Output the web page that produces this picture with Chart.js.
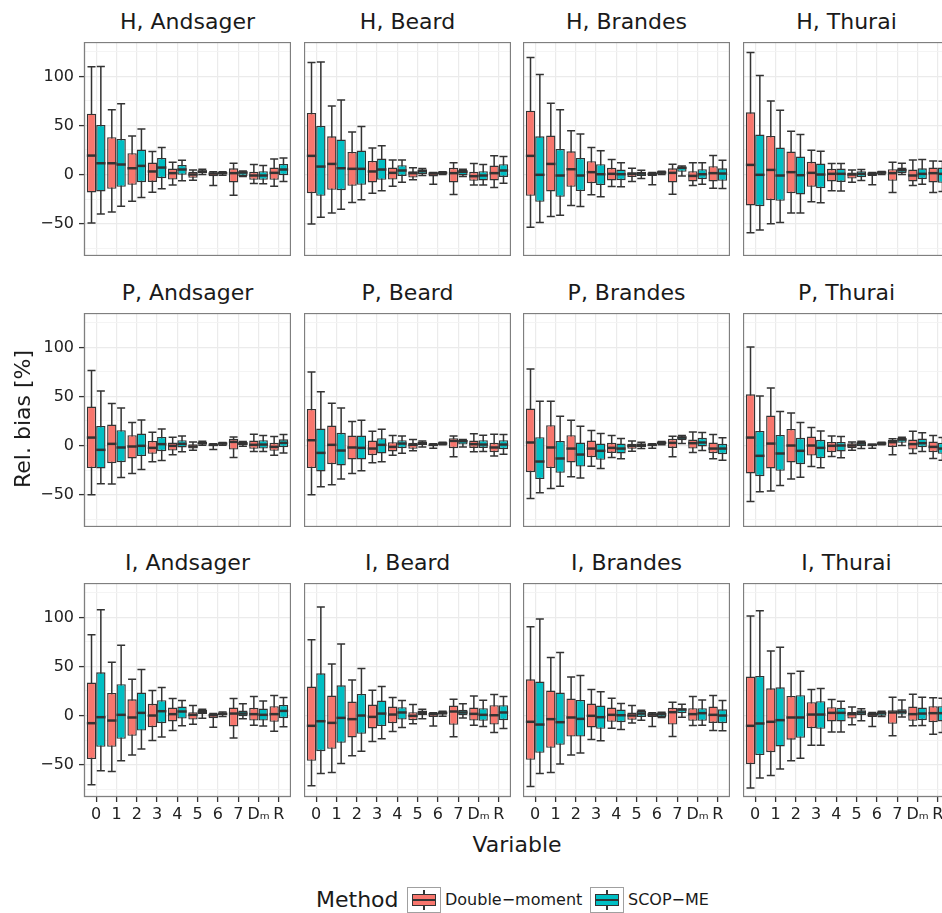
<!DOCTYPE html>
<html><head><meta charset="utf-8">
<script src="https://cdn.jsdelivr.net/npm/chart.js@4.4.0/dist/chart.umd.min.js"></script>
<style>
html,body{margin:0;padding:0;background:#fff;overflow:hidden;width:942px;height:913px;}
#wrap{position:relative;width:960px;height:913px;font-family:"DejaVu Sans",sans-serif;color:#1a1a1a;overflow:hidden;}
canvas{position:absolute;}
.strip{position:absolute;font-size:22px;line-height:22px;text-align:center;white-space:nowrap;width:207px;}
.axt{position:absolute;font-size:22px;line-height:22px;white-space:nowrap;}
.leg{position:absolute;white-space:nowrap;}
.key{position:absolute;width:32px;height:24px;border:1px solid #a0a0a0;background:#fff;}
.key .wh{position:absolute;left:15.3px;width:1.4px;top:2px;bottom:2px;background:#333;}
.key .bx{position:absolute;left:4px;right:4px;top:6px;bottom:6px;border:1.4px solid #333;box-sizing:border-box;}
.key .md{position:absolute;left:4px;right:4px;top:11px;height:2px;background:#333;}
</style></head>
<body><div id="wrap"></div>
<script>
// ---- data ----
const variables = ['0','1','2','3','4','5','6','7','Dₘ','R'];
const methods = ['Double−moment','SCOP−ME'];
const species = ['H','P','I'];
const disdrometers = ['Andsager','Beard','Brandes','Thurai'];
const methodColors = ['#F8766D','#00BFC4'];
const yTickStep = 25;
// each entry: [lower whisker, Q1, median, Q3, upper whisker] for variables 0..R
const H_Andsager_DM = [[-49.5,-18.3,19.3,62,109.8],[-38.3,-14.6,11.5,38,66],[-27.1,-10.5,6.4,21.7,39.3],[-18,-7.5,3.1,12.2,23.4],[-10.8,-5.1,1.4,6.1,12.5],[-5.8,-3.4,0,2.7,4.7],[-11.2,-1.7,1,2,2.7],[-21,-8.1,1.4,6.4,11.5],[-9.2,-5.4,-1,2.7,10.2],[-11.9,-5.4,1.7,7.1,15.9]];
const H_Andsager_SC = [[-40.3,-17.3,11.5,50.5,110],[-32.2,-12.5,10.2,36.3,72.2],[-23.4,-7.8,8.8,25.4,46.4],[-14.6,-3.7,7.1,16.9,27.5],[-6.4,-0.3,5.1,9.8,14.6],[0,1.4,3,4.4,5.4],[-0.7,0,1.4,2.4,2.7],[-2,-1.4,2,3.4,3.7],[-9.5,-5.4,-1,3.4,9.2],[-7.1,-0.7,5.1,10.8,16.9]];
const H_Beard_DM = [[-50.5,-19,19,62.7,114],[-39.3,-15.6,10.8,39,69.8],[-28.5,-11.5,5.8,23,43.4],[-19,-8.1,3.1,13.9,27.1],[-11.9,-5.1,1.7,7.1,14.9],[-5.4,-3.1,1.4,3.4,6.8],[-9.8,-2,1,2,2],[-20.3,-8.1,1.4,6.8,11.9],[-10.8,-6.4,-1.7,2.7,11.2],[-13.2,-6.1,1.4,9.2,19]];
const H_Beard_SC = [[-43.4,-21.7,8.1,49.5,114.6],[-35.3,-15.9,6.4,35.6,75.9],[-25.8,-10.5,5.8,24.4,48.8],[-16.6,-5.4,5.1,16.3,29.2],[-7.8,-1.4,4.1,9.5,14.9],[-1,0.3,3.4,5.4,6.1],[0,0.7,1.7,2.4,2.7],[-2,-1,2.7,4.7,5.4],[-10.8,-6.1,-1,3.4,10.2],[-8.8,-2.4,4.1,10.5,18.3]];
const H_Brandes_DM = [[-53.6,-21.7,19,65,119.3],[-42.7,-17.3,10.8,39.7,72.5],[-31.5,-12.5,5.4,23.7,44.7],[-20.7,-8.8,2.4,13.6,27.5],[-12.2,-6.1,0.7,6.8,15.3],[-7.1,-2.4,0.7,2.4,6.4],[-10.5,-1.4,0.7,1.7,2],[-20,-8.1,1.7,6.4,10.5],[-11.2,-7.1,-1.4,3.4,11.9],[-13.9,-7.1,1.4,8.5,19.3]];
const H_Brandes_SC = [[-48.8,-27.8,-0.3,39,102],[-41.4,-22.7,-1,26.1,66],[-32.5,-16.9,-1,16.9,41.4],[-22.7,-10.8,0.3,10.5,24.1],[-12.5,-5.8,0.3,5.1,11.9],[-4.1,-1.4,1,2.7,4.4],[0,0.7,2,3.1,3.4],[-1.4,2.7,6.8,8.1,8.8],[-9.8,-4.7,0.3,5.4,11.9],[-14.2,-6.4,1,6.4,14.6]];
const H_Thurai_DM = [[-59.3,-31.5,9.8,63.4,124.4],[-50.2,-26.1,4.7,39.3,74.9],[-39.3,-19,2.4,23.4,44.1],[-27.8,-12.5,1.7,12.9,24.7],[-16.6,-7.1,0.7,5.8,11.2],[-7.8,-4.1,0,2,4.7],[-10.5,-1.4,0.7,2,2],[-18.3,-6.4,1.4,5.4,12.5],[-11.2,-7.1,-1,5.1,14.9],[-18.3,-8.1,1.4,7.1,13.9]];
const H_Thurai_SC = [[-56.6,-32.2,-0.3,40.7,101],[-48.8,-26.8,-1,27.5,65.4],[-39.3,-20.3,-0.7,18.3,40.7],[-28.8,-13.9,0,11.2,23.7],[-16.9,-7.5,0.7,6.1,11.2],[-6.1,-2.7,0.7,3.4,5.1],[0,0.7,2,2.7,3.1],[0,1.4,4.4,7.1,11.5],[-9.8,-4.7,0.7,6.4,15.3],[-17.3,-8.5,0.7,7.1,13.6]];
const P_Andsager_DM = [[-50.2,-23,8.1,39.7,76.3],[-39.3,-18,1.7,21.4,42.7],[-28.5,-13.2,-1,10.5,23.4],[-16.6,-8.5,-2.4,4.7,13.6],[-9.5,-5.1,-0.3,3.1,8.5],[-4.7,-3.1,-1,1.4,3.7],[-4.1,-0.7,0.7,1.4,1.7],[-12.2,-4.1,3.7,6.8,8.8],[-6.1,-3.4,0.7,5.1,11.5],[-9.8,-5.4,-1.4,2.7,9.2]];
const P_Andsager_SC = [[-39,-23.4,-4.4,20,55.6],[-32.5,-17,-2,15.6,38.3],[-24.4,-10.8,-0.3,12.2,26.1],[-15.3,-5.8,1.4,8.8,16.9],[-6.4,-2,1.7,5.4,9.8],[0.3,1,2.4,3.7,4.4],[0.3,1,2,2.7,3.1],[-0.7,0,2,3.7,4.1],[-6.1,-3.1,1,5.4,10.2],[-7.5,-1.7,2.7,6.4,11.2]];
const P_Beard_DM = [[-50.2,-23,5.4,37.3,74.9],[-40,-19,0.7,20.3,43],[-28.5,-14.2,-2,10.2,24.4],[-17.6,-9.8,-3.1,5.1,14.6],[-9.8,-6.1,-1.4,3.4,10.2],[-5.4,-3.4,0.7,2.7,6.1],[-2.7,-0.7,0.7,1.4,1.7],[-11.5,-2.7,4.7,7.5,9.8],[-6.4,-2.4,1.4,5.1,11.9],[-10.8,-6.8,-2,2.7,11.5]];
const P_Beard_SC = [[-42,-26.4,-7.5,17.3,54.9],[-34.2,-20.3,-5.1,12.9,38.3],[-25.8,-14.2,-2.4,10.2,25.8],[-16.6,-8.1,0.7,7.5,16.6],[-7.8,-2.7,2,5.4,9.8],[-1.4,0,2,4.1,4.7],[0.7,1.4,2,3.1,3.4],[-1.4,1,4.4,5.8,6.1],[-6.1,-2.4,1,5.4,10.5],[-8.8,-3.7,1,5.4,11.2]];
const P_Brandes_DM = [[-53.9,-27.1,3.1,37.6,78],[-43.7,-23,-2,20.7,45.1],[-31.9,-17.3,-3.1,10.5,25.8],[-21,-11.9,-3.1,5.1,15.3],[-12.2,-7.5,-2.4,2.7,10.2],[-5.8,-3.4,-0.3,1.7,4.7],[-2.7,-0.7,0.7,1.4,1.7],[-11.5,-2.4,2.7,6.8,9.5],[-7.1,-3.1,2.4,6.1,13.9],[-13.6,-7.8,-3.1,3.1,11.2]];
const P_Brandes_SC = [[-48.1,-34.2,-16.3,8.5,45.1],[-41.4,-27.8,-13.2,4.7,29.8],[-33.2,-21.4,-9.2,3.1,19.7],[-23.4,-14.6,-5.4,2,12.2],[-13.6,-8.1,-3.1,2,7.1],[-3.1,-1.4,0.7,2,3.4],[0.7,1.4,2.7,3.7,4.1],[2,5.4,8.1,9.5,10.2],[-5.1,-1,3.1,7.8,13.2],[-14.9,-8.8,-3.1,1.7,7.8]];
const P_Thurai_DM = [[-56.9,-28.5,8.1,52.2,100.3],[-46.4,-23.4,2,30.5,58.6],[-34.2,-17.3,0,16.9,33.2],[-21.4,-10.2,0,9.2,18.3],[-11.2,-6.8,-0.3,3.7,9.8],[-4.7,-2.7,0,2.4,3.7],[-2.7,-0.7,0.7,1.4,1.4],[-9.5,-1.4,3.4,5.8,6.8],[-8.1,-4.1,1.4,6.1,14.6],[-13.2,-6.8,-1.4,4.1,10.2]];
const P_Thurai_SC = [[-47.1,-31.2,-10.5,14.9,50.5],[-40.7,-25.8,-8.1,10.8,34.6],[-32.2,-19,-5.4,7.8,23.4],[-22.7,-12.9,-2.4,5.8,14.9],[-12.5,-6.1,0,3.7,9.2],[-3.1,-0.7,2,4.1,4.4],[0.7,1.4,2,3.1,3.4],[0,2.7,6.1,7.8,8.5],[-6.1,-1.7,2.4,7.1,12.9],[-14.9,-8.5,-3.1,2.7,8.1]];
const I_Andsager_DM = [[-70.5,-44.4,-7.8,33.6,82.4],[-56.9,-31.9,-5.1,23,54.2],[-40.3,-20.7,-2,16.6,36.9],[-25.4,-11.9,0,11.9,25.4],[-15.3,-6.1,1.4,8.1,17.3],[-8.8,-4.1,0.7,3.4,10.2],[-11.9,-2.7,0.3,2,2],[-23,-11.2,2,8.1,17.3],[-9.8,-5.1,1.4,7.8,19.3],[-15.9,-6.4,1.4,9.5,20.3]];
const I_Andsager_SC = [[-56.3,-31.9,-1.7,44.1,107.8],[-46.1,-23.7,0.7,31.9,71.5],[-34.2,-15.3,2.7,23.4,46.8],[-22,-7.8,4.4,15.6,28.5],[-10.5,-3.1,4.1,9.2,15.3],[-2.7,1.4,3.7,5.8,6.4],[-1,0,1.7,3.1,3.7],[-3.4,-0.7,2,5.1,11.9],[-10.8,-5.1,0.7,7.1,14.9],[-11.5,-2.7,4.7,10.8,18.3]];
const I_Beard_DM = [[-71.5,-46.1,-10.5,29.5,77.3],[-58,-33.9,-7.5,20.3,52.5],[-41,-22.4,-3.7,14.2,36.3],[-26.4,-13.2,-1.4,11.2,25.8],[-16.3,-7.8,1,9.2,18.3],[-8.5,-4.7,-0.3,3.4,11.2],[-10.8,-1.4,1.4,2.7,2.7],[-21.7,-9.5,4.1,10.2,16.6],[-9.8,-5.1,1.7,8.1,20],[-17.3,-9.2,0.3,10.5,21.4]];
const I_Beard_SC = [[-59,-36.3,-5.8,43,110.5],[-48.8,-27.8,-2.4,30.8,72.9],[-36.3,-18.6,0,22,47.8],[-23.7,-10.8,2,15.3,29.5],[-12.2,-4.1,3.1,8.5,15.3],[-3.4,0.3,2.7,5.1,6.4],[-0.7,0.7,2.7,4.1,4.4],[-2.4,0.3,3.1,5.8,11.9],[-11.2,-5.4,0.7,7.5,15.6],[-13.2,-4.7,3.1,10.5,19.3]];
const I_Brandes_DM = [[-72.2,-45.1,-6.4,36.9,90.5],[-58,-32.9,-3.7,25.4,59],[-40.3,-21.4,-2,17.3,39.3],[-24.4,-12.2,-0.3,12.2,26.4],[-12.9,-6.4,0.7,8.1,17.6],[-7.5,-4.4,0,3.1,10.2],[-11.2,-1.4,1,2.4,2.7],[-21.4,-9.2,3.4,7.8,13.6],[-10.2,-5.4,1.4,7.5,19.3],[-15.3,-7.5,0.7,9.2,20.3]];
const I_Brandes_SC = [[-59,-38,-9.2,34.6,98.3],[-49.5,-29.8,-6.8,23.4,64.1],[-38.3,-21.4,-3.4,15.9,40.7],[-25.8,-13.6,-1.7,10.2,24.1],[-14.2,-6.8,0.3,6.1,12.2],[-4.7,-1.4,2,4.7,5.4],[-2,-1.4,1.4,3.1,3.4],[-1.7,2.4,6.1,7.5,11.5],[-9.8,-5.4,2.4,7.5,15.9],[-15.6,-7.8,0,6.4,15.3]];
const I_Thurai_DM = [[-73.9,-49.5,-10.5,39.7,101.4],[-61,-37.3,-6.4,27.8,65.8],[-46.1,-24.7,-2,20,42.7],[-30.2,-12.9,1,13.6,26.4],[-16.9,-6.1,2.7,8.5,16.3],[-9.5,-3.1,1.4,3.7,8.8],[-11.2,-1.4,1,2.7,3.1],[-20.7,-8.5,3.1,5.4,18.6],[-10.5,-5.4,1.4,9.2,21.7],[-19,-6.8,2.4,9.5,18]];
const I_Thurai_SC = [[-63.7,-40.3,-8.1,40.3,106.8],[-54.6,-31.5,-4.7,28.8,69.5],[-43.4,-22.7,-2,20.7,45.1],[-30.2,-13.6,1,14.6,27.5],[-16.9,-6.1,2.7,7.8,14.6],[-5.4,0.3,3.1,5.4,6.8],[-1,-0.3,2.4,4.1,4.4],[-1.4,1,3.7,6.4,15.9],[-10.2,-4.7,2,8.1,18.6],[-17.3,-6.1,2.4,9.5,17.6]];

const panelTable = {
  H_Andsager:[H_Andsager_DM,H_Andsager_SC], H_Beard:[H_Beard_DM,H_Beard_SC], H_Brandes:[H_Brandes_DM,H_Brandes_SC], H_Thurai:[H_Thurai_DM,H_Thurai_SC],
  P_Andsager:[P_Andsager_DM,P_Andsager_SC], P_Beard:[P_Beard_DM,P_Beard_SC], P_Brandes:[P_Brandes_DM,P_Brandes_SC], P_Thurai:[P_Thurai_DM,P_Thurai_SC],
  I_Andsager:[I_Andsager_DM,I_Andsager_SC], I_Beard:[I_Beard_DM,I_Beard_SC], I_Brandes:[I_Brandes_DM,I_Brandes_SC], I_Thurai:[I_Thurai_DM,I_Thurai_SC]
};

// ---- layout ----
const colLeft = [84, 304, 523, 743];
const rowTop = [42, 313, 583];
const PW = 207, PH = 214, YW = 60, XH = 32;
const FONT = '"DejaVu Sans", sans-serif';
const wrap = document.getElementById('wrap');

const boxPlugin = {
  id: 'boxWhisker',
  beforeDatasetsDraw(chart) {
    const ctx = chart.ctx, ys = chart.scales.y;
    ctx.save();
    ctx.strokeStyle = '#333333'; ctx.lineWidth = 1.5;
    chart.data.datasets.forEach((ds, di) => {
      chart.getDatasetMeta(di).data.forEach((bar, i) => {
        const s = ds.stats[i];
        const x = bar.x, hw = bar.width * 0.43;
        const yl = ys.getPixelForValue(s[0]), yh = ys.getPixelForValue(s[4]);
        ctx.beginPath();
        ctx.moveTo(x, yl); ctx.lineTo(x, yh);
        ctx.moveTo(x - hw, yl); ctx.lineTo(x + hw, yl);
        ctx.moveTo(x - hw, yh); ctx.lineTo(x + hw, yh);
        ctx.stroke();
      });
    });
    ctx.restore();
  },
  afterDatasetsDraw(chart) {
    const ctx = chart.ctx, ys = chart.scales.y;
    ctx.save();
    ctx.strokeStyle = '#333333'; ctx.lineWidth = 2.5;
    chart.data.datasets.forEach((ds, di) => {
      chart.getDatasetMeta(di).data.forEach((bar, i) => {
        const s = ds.stats[i];
        const ym = ys.getPixelForValue(s[2]);
        ctx.beginPath();
        ctx.moveTo(bar.x - bar.width / 2, ym); ctx.lineTo(bar.x + bar.width / 2, ym);
        ctx.stroke();
      });
    });
    ctx.restore();
  },
  afterDraw(chart) {
    const a = chart.chartArea, ctx = chart.ctx;
    ctx.save();
    ctx.strokeStyle = '#7f7f7f'; ctx.lineWidth = 1.3;
    ctx.strokeRect(a.left + 0.5, a.top + 0.5, a.right - a.left - 1, a.bottom - a.top - 1);
    ctx.restore();
  }
};

function zeroPad(s) { s.paddingTop = 0; s.paddingBottom = 0; s.paddingLeft = 0; s.paddingRight = 0; }

function makePanel(r, c) {
  const key = species[r] + '_' + disdrometers[c];
  const [dm, sc] = panelTable[key];
  const showY = c === 0, showX = r === species.length - 1;
  const left = colLeft[c] - (showY ? YW : 0);
  const w = PW + (showY ? YW : 0), h = PH + (showX ? XH : 0);
  const cv = document.createElement('canvas');
  cv.width = w; cv.height = h;
  cv.style.left = left + 'px'; cv.style.top = rowTop[r] + 'px';
  cv.style.width = w + 'px'; cv.style.height = h + 'px';
  wrap.appendChild(cv);

  const strip = document.createElement('div');
  strip.className = 'strip';
  strip.textContent = species[r] + ', ' + disdrometers[c];
  strip.style.left = colLeft[c] + 'px';
  strip.style.top = (rowTop[r] - 31) + 'px';
  wrap.appendChild(strip);

  const toBox = arr => arr.map((s, i) => ({ x: i, y: [s[1], s[3]] }));
  const mk = (stats, m) => ({
    label: methods[m], data: toBox(stats), stats: stats,
    backgroundColor: methodColors[m], borderColor: '#333333', borderWidth: 1.4,
    borderSkipped: false, categoryPercentage: 0.92, barPercentage: 1.0
  });
  new Chart(cv, {
    type: 'bar',
    data: { datasets: [mk(dm, 0), mk(sc, 1)] },
    options: {
      responsive: false, animation: false, maintainAspectRatio: false,
      layout: { padding: 0 },
      events: [],
      plugins: { legend: { display: false }, tooltip: { enabled: false }, title: { display: false } },
      scales: {
        x: {
          type: 'linear', min: -0.6, max: variables.length - 0.4, offset: false,
          ticks: { stepSize: 1, includeBounds: false, autoSkip: false, maxRotation: 0, minRotation: 0,
            display: showX, padding: 3, color: '#222', font: { family: FONT, size: 16 },
            callback: v => variables[Math.round(v)] },
          grid: { offset: false, color: '#EBEBEB', lineWidth: 1.2, drawTicks: showX, tickLength: 5, tickColor: '#333', tickWidth: 1.3 },
          border: { display: false },
          afterFit: s => { s.height = showX ? XH : 0; zeroPad(s); }
        },
        y: {
          min: -83, max: 135,
          ticks: { stepSize: yTickStep, includeBounds: false, display: showY, padding: 5, color: '#222',
            font: { family: FONT, size: 16 },
            callback: v => (v % 50 === 0 ? String(v).replace('-', '−') : '') },
          grid: {
            color: ctx => (ctx.tick && ctx.tick.value % 50 === 0) ? '#EBEBEB' : '#F3F3F3',
            lineWidth: ctx => (ctx.tick && ctx.tick.value % 50 === 0) ? 1.2 : 0.9,
            drawTicks: showY, tickLength: 5, tickWidth: 1.3,
            tickColor: ctx => (ctx.tick && ctx.tick.value % 50 === 0) ? '#333' : 'rgba(0,0,0,0)'
          },
          border: { display: false },
          afterFit: s => { s.width = showY ? YW : 0; zeroPad(s); }
        }
      }
    },
    plugins: [boxPlugin]
  });
}

for (let r = 0; r < species.length; r++)
  for (let c = 0; c < disdrometers.length; c++) makePanel(r, c);

// axis titles
const yt = document.createElement('div');
yt.className = 'axt'; yt.textContent = 'Rel. bias [%]';
yt.style.left = '23px'; yt.style.top = '419px';
yt.style.transform = 'translate(-50%,-50%) rotate(-90deg)';
wrap.appendChild(yt);
const xt = document.createElement('div');
xt.className = 'axt'; xt.textContent = 'Variable';
xt.style.left = '517px'; xt.style.top = '845px';
xt.style.transform = 'translate(-50%,-50%)';
wrap.appendChild(xt);

// legend
const lt = document.createElement('div');
lt.className = 'leg'; lt.textContent = 'Method';
lt.style.cssText += 'left:316px;top:889px;font-size:22px;line-height:22px;';
wrap.appendChild(lt);
const keyLeft = [407, 590];
methods.forEach((m, i) => {
  const k = document.createElement('div');
  k.className = 'key';
  k.style.left = keyLeft[i] + 'px'; k.style.top = '887px';
  k.innerHTML = '<div class="wh"></div><div class="bx" style="background:' + methodColors[i] + '"></div><div class="md"></div>';
  wrap.appendChild(k);
  const t = document.createElement('div');
  t.className = 'leg'; t.textContent = m;
  t.style.cssText += 'left:' + (keyLeft[i] + 38) + 'px;top:891px;font-size:16px;line-height:18px;';
  wrap.appendChild(t);
});
</script>
</body></html>
